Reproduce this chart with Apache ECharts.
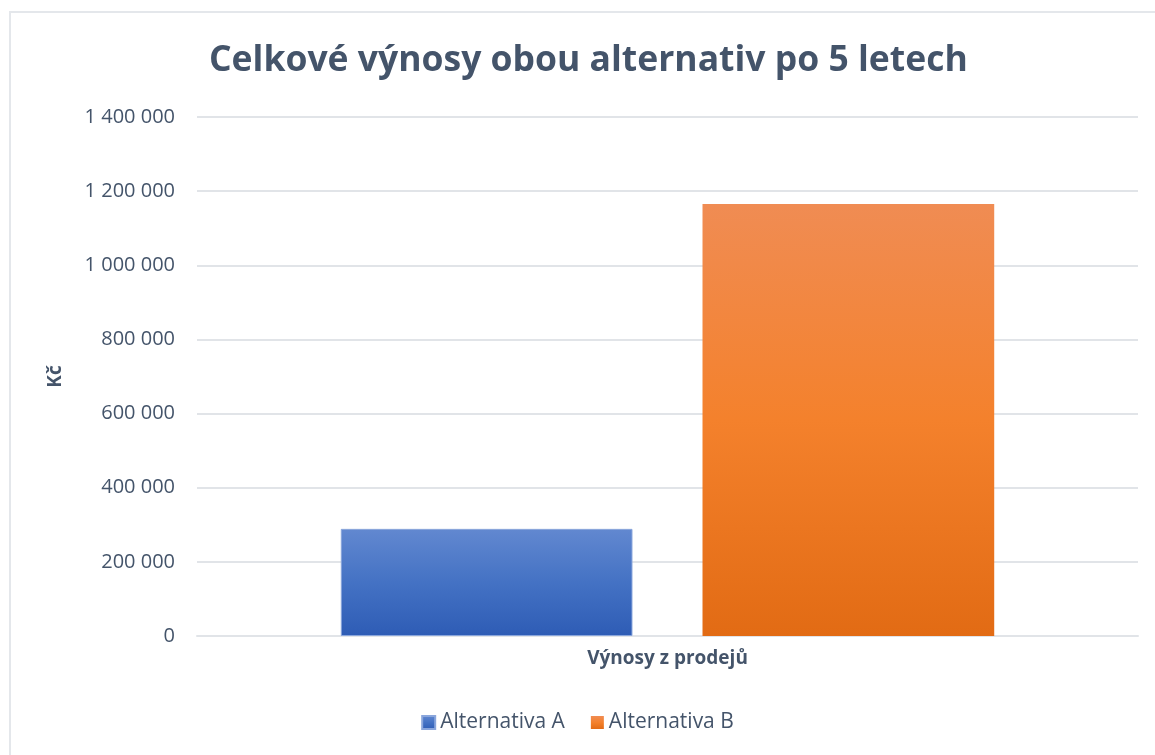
<!DOCTYPE html>
<html>
<head>
<meta charset="utf-8">
<script src="https://cdn.jsdelivr.net/npm/echarts@6/dist/echarts.min.js"></script>
<style>
	html, body { margin: 0; padding: 0; background: #fff; }
	.frame {
		position: absolute;
		left: 9px;
		top: 11px;
		width: 1160px;
		height: 760px;
		border: 2px solid #e4e7eb;
		box-sizing: border-box;
	}
	#chart { position: absolute; left: 0; top: 0; width: 1155px; height: 755px; }
</style>
</head>
<body>
<div class="frame"></div>
<div id="chart"></div>
<script>
const categories = ['Výnosy z prodejů'];
const seriesNames = ['Alternativa A', 'Alternativa B'];
const valuesA = [289000];
const valuesB = [1165000];
const yTicks = [0, 200000, 400000, 600000, 800000, 1000000, 1200000, 1400000];

const textColor = '#44546a';
const fontFamily = '"Open Sans", "Noto Sans", sans-serif';

function fmt(v) {
	return String(v).replace(/\B(?=(\d{3})+(?!\d))/g, ' ');
}

function grad(top, mid, bottom) {
	return new echarts.graphic.LinearGradient(0, 0, 0, 1, [
		{ offset: 0, color: top },
		{ offset: 0.5, color: mid },
		{ offset: 1, color: bottom },
	]);
}

const chart = echarts.init(document.getElementById('chart'), null, { renderer: 'canvas' });

chart.setOption({
	animation: false,
	textStyle: { fontFamily },
	title: {
		text: 'Celkové výnosy obou alternativ po 5 letech',
		left: 204,
		top: 38,
		textStyle: {
			color: textColor,
			fontSize: 35.5,
			fontWeight: 'bold',
			fontFamily,
		},
	},
	legend: {
		bottom: 17,
		left: 'center',
		itemWidth: 13,
		itemHeight: 13,
		itemGap: 26,
		icon: 'rect',
		textStyle: { color: textColor, fontSize: 21, fontFamily },
		data: seriesNames,
	},
	grid: {
		left: 197,
		right: 17,
		top: 117,
		bottom: 119,
		containLabel: false,
	},
	xAxis: {
		type: 'category',
		data: categories,
		axisLine: { show: true, lineStyle: { color: '#e1e4e8', width: 2 } },
		axisTick: { show: false },
		axisLabel: {
			color: textColor,
			fontSize: 19,
			fontWeight: 'bold',
			margin: 13,
		},
	},
	yAxis: {
		type: 'value',
		min: yTicks[0],
		max: yTicks[yTicks.length - 1],
		interval: 200000,
		name: 'Kč',
		nameLocation: 'middle',
		nameGap: 132,
		nameRotate: 90,
		nameTextStyle: { color: textColor, fontSize: 19, fontWeight: 'bold' },
		axisLine: { show: false },
		axisTick: { show: false },
		axisLabel: {
			color: textColor,
			fontSize: 20,
			margin: 22,
			formatter: (v) => fmt(v),
		},
		splitLine: { lineStyle: { color: '#e1e4e8', width: 2 } },
	},
	series: [
		{
			name: seriesNames[0],
			type: 'bar',
			data: valuesA,
			barWidth: '31%',
			barGap: '24%',
			itemStyle: {
				color: grad('#6288d0', '#4472c4', '#2e5cb5'),
				borderColor: '#8aa6dc',
				borderWidth: 1,
			},
		},
		{
			name: seriesNames[1],
			type: 'bar',
			data: valuesB,
			barWidth: '31%',
			itemStyle: {
				color: grad('#f08c53', '#f4812c', '#e26b14'),
			},
		},
	],
});
</script>
</body>
</html>
